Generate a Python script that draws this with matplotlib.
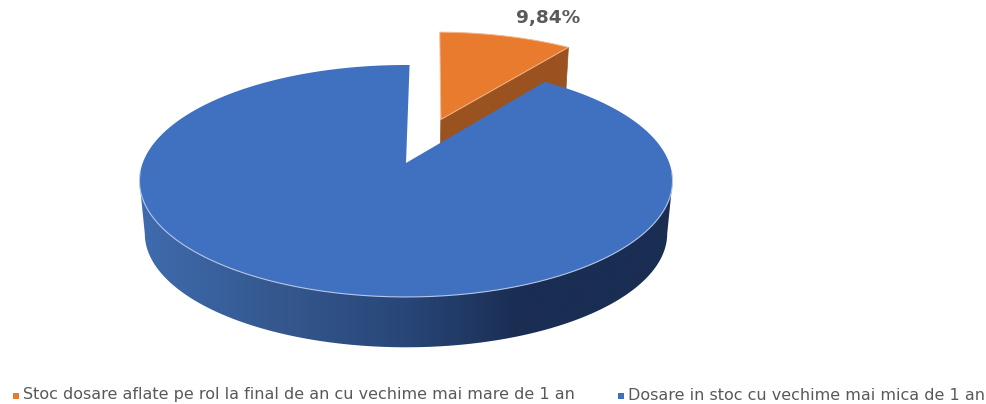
import numpy as np
import matplotlib
matplotlib.use("Agg")
import matplotlib.pyplot as plt
from matplotlib.colors import LinearSegmentedColormap
from matplotlib.patches import Polygon

categories = ["Stoc dosare aflate pe rol la final de an cu vechime mai mare de 1 an",
              "Dosare in stoc cu vechime mai mica de 1 an"]
values = [9.84, 90.16]
value_labels = ["9,84%", ""]
colors = ["#E97B2F", "#4070C0"]

START = 0.9       # first slice angle, degrees clockwise from the back
EXPLODE = 0.432   # pulled out slice, in pie radii
EXPLODE_DIR = 19
K = 0.155         # perspective
CX, CY = 406, 163
A, B = 263.3, 113.2
DEPTH = 53
BOTTOM_SCALE = 0.98


def project(t, r=1.0, dx=0.0, dy=0.0, bottom=False):
    """pie plane -> pixel coordinates"""
    t = np.radians(t)
    x = r * np.sin(t) + dx
    y = r * np.cos(t) + dy
    w = 1 + K * y
    s = BOTTOM_SCALE if bottom else 1.0
    px = CX + s * A * x / w
    py = CY - s * B * y / w + (DEPTH if bottom else 0)
    return np.column_stack([np.atleast_1d(px), np.atleast_1d(py)])


fig = plt.figure(figsize=(9.87, 4.04), dpi=100)
ax = fig.add_axes([0, 0, 1, 1])
ax.axis("off")

sweeps = np.array(values) / sum(values) * 360
orange_end = START + sweeps[0]
blue_end = orange_end + sweeps[1]

# exploded slice
d = np.radians(EXPLODE_DIR)
dx, dy = EXPLODE * np.sin(d), EXPLODE * np.cos(d)
apex_t = project(0, 0, dx, dy)[0]
apex_b = project(0, 0, dx, dy, bottom=True)[0]
corner_t = project(orange_end, 1, dx, dy)[0]
corner_b = project(orange_end, 1, dx, dy, bottom=True)[0]
ax.add_patch(Polygon([apex_t, corner_t, corner_b, apex_b], closed=True,
                     facecolor="#9A5320", edgecolor="#9A5320", lw=0.5, zorder=1))
arc = project(np.linspace(START, orange_end, 60), 1, dx, dy)
ax.add_patch(Polygon(np.vstack([apex_t, arc]), closed=True, facecolor=colors[0],
                     edgecolor="#F3B78E", lw=0.7, zorder=2))

# side wall of the big slice, shaded left to right
shade = LinearSegmentedColormap.from_list(
    "wall", [(0, "#3F6BAF"), (0.25, "#35598F"), (0.5, "#284678"),
             (0.72, "#1A2D52"), (1, "#1A2D52")])
ring = np.linspace(0, 360, 721)
top_ring = project(ring)
bot_ring = project(ring, bottom=True)
right_t, left_t = top_ring[:, 0].argmax(), top_ring[:, 0].argmin()
right_b, left_b = bot_ring[:, 0].argmax(), bot_ring[:, 0].argmin()
wall = Polygon(np.vstack([top_ring[left_t], bot_ring[right_b:left_b + 1][::-1], top_ring[right_t]]),
               closed=True, transform=ax.transData, facecolor="none", edgecolor="none")
ax.add_patch(wall)
im = ax.imshow(np.linspace(0, 1, 256)[None, :], cmap=shade, aspect="auto",
               extent=[139, 672, 350, 170], zorder=3)
im.set_clip_path(wall)

# top of the big slice
arc = project(np.linspace(orange_end, blue_end, 500))
apex = project(0, 0)[0]
ax.add_patch(Polygon(np.vstack([apex, arc]), closed=True, facecolor=colors[1],
                     edgecolor="none", zorder=4))
front = project(np.linspace(95, 265, 200))
ax.plot(front[:, 0], front[:, 1], color="#B7C8E6", lw=0.8, zorder=5)

# data label
ax.text(548, 18, value_labels[0], ha="center", va="center", fontsize=13.3,
        fontweight="bold", color="#595959", family="DejaVu Sans")

# legend
for x, name, c in zip([23, 628], categories, colors):
    ax.plot(x - 7, 395.5, marker="s", ms=4.2, color=c, mew=0, zorder=6)
    ax.text(x, 395, name, ha="left", va="center", fontsize=11.5,
            color="#595959", family="DejaVu Sans")

ax.set_xlim(0, 987)
ax.set_ylim(404, 0)

fig.savefig("out.png", dpi=100)
